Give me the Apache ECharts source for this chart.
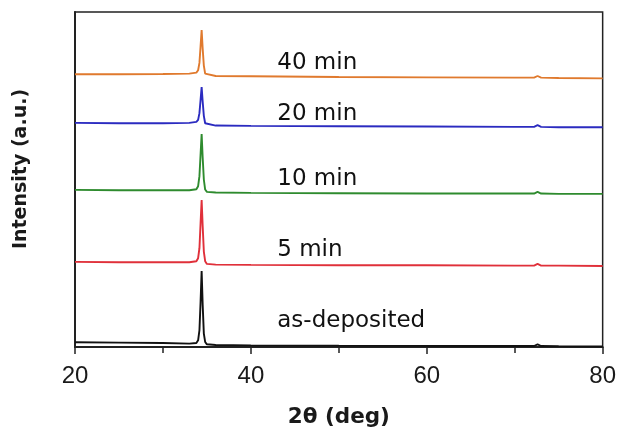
<!DOCTYPE html>
<html>
<head>
<meta charset="utf-8">
<script src="https://cdn.jsdelivr.net/npm/echarts@6/dist/echarts.min.js"></script>
<style>
  html, body { margin: 0; padding: 0; background: #fff; }
  #chart { width: 619px; height: 433px; }
</style>
</head>
<body>
<div id="chart"></div>
<script>
// 2θ sample positions shared by all patterns
const twoTheta = [20, 25, 30, 33, 33.8, 34.0, 34.15, 34.28, 34.4, 34.52, 34.65, 34.8, 35, 36, 40, 50, 60, 70, 72.2, 72.6, 73, 75, 80]

// offset intensities (a.u.)
const asDeposited = [1.4, 1.3, 1.2, 1.0, 1.2, 2.0, 5.0, 13.5, 22.7, 12.5, 4.0, 1.5, 0.8, 0.6, 0.5, 0.4, 0.35, 0.3, 0.3, 0.8, 0.3, 0.25, 0.2]
const min5 = [25.4, 25.3, 25.3, 25.3, 25.6, 26.5, 29.5, 37.0, 43.9, 36.0, 28.5, 25.6, 24.8, 24.6, 24.5, 24.4, 24.4, 24.3, 24.3, 24.8, 24.3, 24.3, 24.2]
const min10 = [46.9, 46.8, 46.8, 46.8, 47.1, 48.0, 51.0, 57.5, 63.6, 56.5, 50.0, 47.0, 46.3, 46.1, 46.0, 45.9, 45.8, 45.8, 45.8, 46.3, 45.8, 45.7, 45.7]
const min20 = [66.9, 66.8, 66.8, 66.9, 67.2, 67.8, 69.8, 73.8, 77.6, 73.2, 69.0, 66.8, 66.3, 66.1, 66.0, 65.9, 65.8, 65.7, 65.7, 66.2, 65.7, 65.6, 65.6]
const min40 = [81.4, 81.4, 81.5, 81.6, 81.9, 82.6, 84.8, 89.8, 94.6, 89.0, 84.0, 81.6, 81.1, 80.9, 80.8, 80.6, 80.5, 80.4, 80.4, 80.9, 80.4, 80.3, 80.2]

const seriesNames = ['as-deposited', '5 min', '10 min', '20 min', '40 min']
const seriesValues = [asDeposited, min5, min10, min20, min40]
const seriesColors = ['#111111', '#e0303a', '#2e8b2e', '#2b2bc0', '#e07a2e']

// where each curve label sits (data coords)
const labelX = [43, 43, 43, 43, 43]
const labelY = [7.8, 28.8, 50.0, 69.4, 84.8]

const xTicks = [20, 40, 60, 80]

const chart = echarts.init(document.getElementById('chart'))

const series = seriesNames.map((name, i) => ({
  name,
  type: 'line',
  showSymbol: false,
  symbol: 'none',
  lineStyle: { color: seriesColors[i], width: 1.9 },
  data: twoTheta.map((x, j) => [x, seriesValues[i][j]]),
  z: 3
}))

series.push({
  type: 'scatter',
  symbolSize: 0,
  silent: true,
  itemStyle: { opacity: 1 },
  data: seriesNames.map((name, i) => ({ value: [labelX[i], labelY[i]], name })),
  label: {
    show: true,
    position: 'right',
    distance: 0,
    formatter: p => p.name,
    color: '#111',
    opacity: 1,
    fontFamily: 'DejaVu Sans',
    fontSize: 23
  }
})

chart.setOption({
  animation: false,
  grid: {
    left: 75, right: 16, top: 12, bottom: 86,
    show: true,
    borderColor: '#222',
    borderWidth: 1.5
  },
  xAxis: {
    type: 'value',
    min: xTicks[0],
    max: xTicks[xTicks.length - 1],
    interval: 20,
    name: '2θ (deg)',
    nameLocation: 'middle',
    nameGap: 59,
    nameTextStyle: { fontFamily: 'DejaVu Sans', fontWeight: 'bold', fontSize: 21.5, color: '#1a1a1a' },
    axisLine: { show: true, onZero: false, lineStyle: { color: '#222', width: 2 } },
    axisTick: { show: true, inside: false, length: 7, lineStyle: { color: '#222', width: 1.5 } },
    minorTick: { show: true, splitNumber: 2, length: 6, lineStyle: { color: '#222', width: 1.5 } },
    axisLabel: { margin: 17, color: '#1a1a1a', fontFamily: 'Liberation Sans', fontSize: 24 },
    splitLine: { show: false }
  },
  yAxis: {
    type: 'value',
    min: 0,
    max: 100,
    name: 'Intensity (a.u.)',
    nameLocation: 'middle',
    nameGap: 44,
    nameTextStyle: {
      fontFamily: 'DejaVu Sans', fontWeight: 'bold', fontSize: 19, color: '#1a1a1a',
      padding: [0, 0, 0, 21]
    },
    axisLine: { show: true, lineStyle: { color: '#222', width: 2 } },
    axisTick: { show: false },
    axisLabel: { show: false },
    splitLine: { show: false }
  },
  series
})
</script>
</body>
</html>
